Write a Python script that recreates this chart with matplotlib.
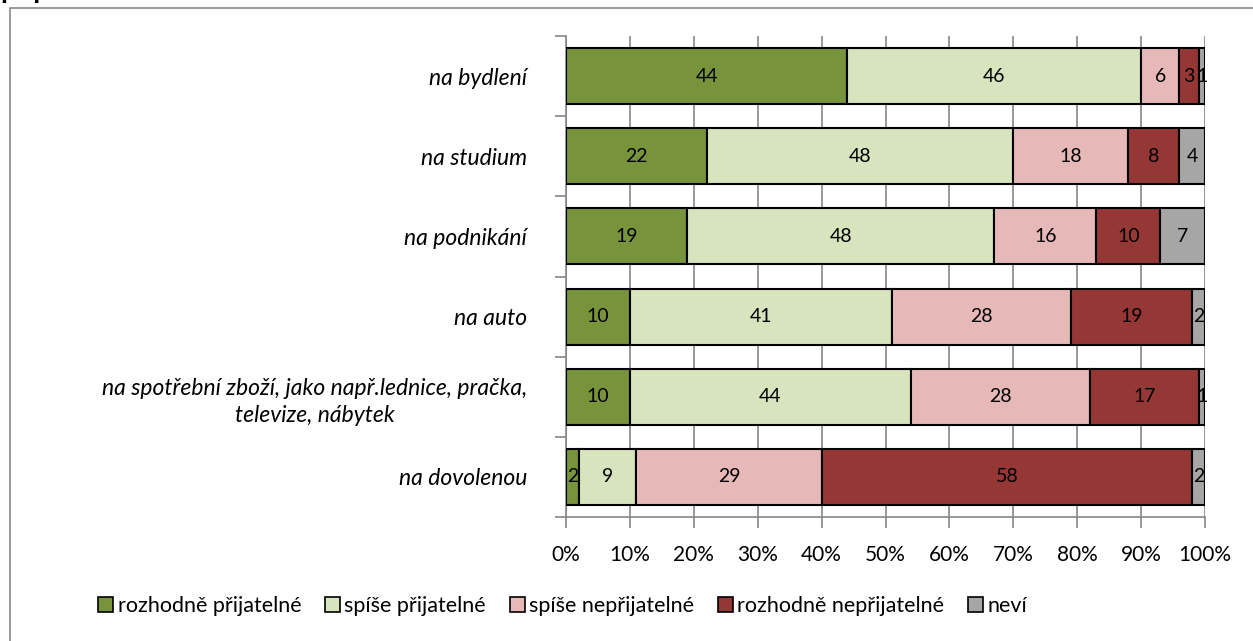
import matplotlib
matplotlib.use("Agg")
import matplotlib.pyplot as plt
from matplotlib.patches import Rectangle
import numpy as np

categories = ["na bydlení", "na studium", "na podnikání", "na auto",
              "na spotřební zboží, jako např.lednice, pračka,\ntelevize, nábytek",
              "na dovolenou"]
series_names = ["rozhodně přijatelné", "spíše přijatelné", "spíše nepřijatelné",
                "rozhodně nepřijatelné", "neví"]
rozhodne_prij = [44, 22, 19, 10, 10, 2]
spise_prij = [46, 48, 48, 41, 44, 9]
spise_neprij = [6, 18, 16, 28, 28, 29]
rozhodne_neprij = [3, 8, 10, 19, 17, 58]
nevi = [1, 4, 7, 2, 1, 2]
xticklabels = ["0%", "10%", "20%", "30%", "40%", "50%", "60%", "70%", "80%", "90%", "100%"]

colors = ["#77933C", "#D7E4BD", "#E6B9B8", "#953735", "#A6A6A6"]

plt.rcParams['font.family'] = ['Lato', 'DejaVu Sans']

fig = plt.figure(figsize=(12.53, 6.41), dpi=100)
W, H = 1253, 641
ax = fig.add_axes([566 / W, 1 - 517 / H, (1205 - 566) / W, (517 - 36) / H])

# figure border
fig.patches.append(Rectangle((10 / W, -0.1), 1.2, 1 - 8 / H + 0.1, transform=fig.transFigure,
                             fill=False, edgecolor="#898989", linewidth=1.2))
# title, mostly clipped at the top edge as in the reference
fig.text(0 / W, 1 + 10 / H, "případech", fontsize=20, fontweight="bold", va="center",
         ha="left")

data = [rozhodne_prij, spise_prij, spise_neprij, rozhodne_neprij, nevi]
y = np.arange(len(categories))
left = np.zeros(len(categories))
for vals, c, name in zip(data, colors, series_names):
    vals = np.array(vals, dtype=float)
    ax.barh(y, vals, left=left, height=0.7, color=c, edgecolor="black",
            linewidth=1.5, label=name, zorder=3)
    for yi, (l, v) in enumerate(zip(left, vals)):
        ax.text(l + v / 2, yi, f"{int(v)}", ha="center", va="center",
                fontsize=14, color="black", zorder=4)
    left += vals

ax.set_xlim(0, 100)
ax.set_ylim(len(categories) - 0.5, -0.5)
ax.set_xticks(np.arange(0, 101, 10))
ax.set_xticklabels(xticklabels, fontsize=15)
ax.set_yticks(y)
ax.set_yticklabels(categories, fontsize=16.5, style="italic")
for t in ax.get_yticklabels():
    t.set_multialignment("center")
    t.set_linespacing(1.35)
ax.set_yticks(np.arange(-0.5, len(categories), 1), minor=True)
ax.tick_params(axis="y", which="major", length=0, pad=28)
ax.tick_params(axis="y", which="minor", length=8, color="#868686", width=1.2)
ax.tick_params(axis="x", length=8, color="#868686", width=1.2, pad=12)
ax.grid(axis="x", color="#868686", linewidth=1.2, zorder=0)
for s in ["top", "right"]:
    ax.spines[s].set_visible(False)
for s in ["left", "bottom"]:
    ax.spines[s].set_color("#868686")
    ax.spines[s].set_linewidth(1.2)

leg = fig.legend(loc="center", bbox_to_anchor=(0.449, 1 - 606 / H), ncol=5, frameon=False,
                 fontsize=15.5, handlelength=0.7, handleheight=0.7, handletextpad=0.2,
                 columnspacing=1.1)
for h in leg.legend_handles:
    h.set_linewidth(1.2)

fig.savefig("out.png", dpi=100)
